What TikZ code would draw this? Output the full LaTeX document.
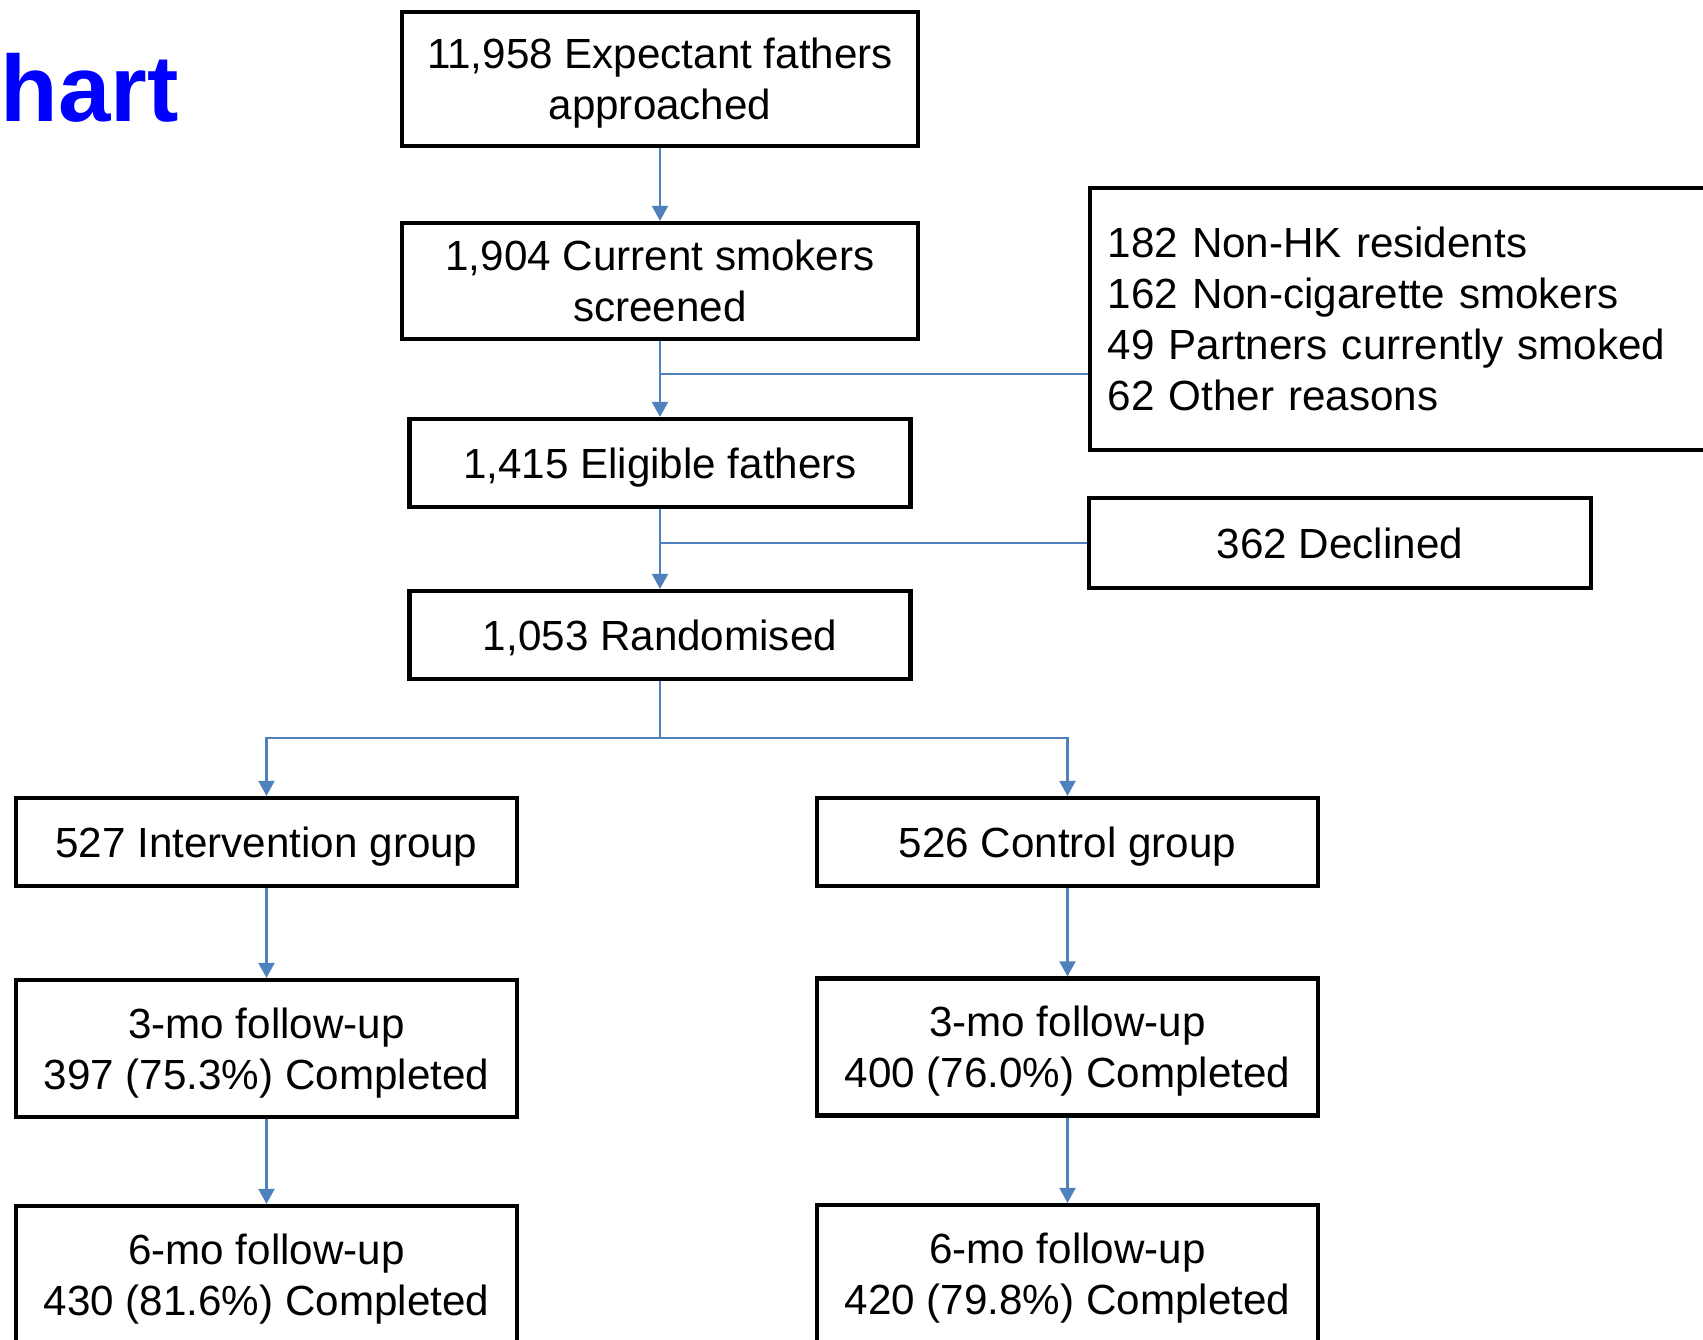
\documentclass[tikz,border=0pt]{standalone}
\usepackage{fontspec}
\setmainfont{Liberation Sans}
\usetikzlibrary{arrows.meta}
\definecolor{linkblue}{RGB}{79,129,189}
\definecolor{titleblue}{RGB}{0,0,255}
\begin{document}
\begin{tikzpicture}[%
% common options for the boxes:
box/.style = {draw, line width=1.2pt, align=center, inner sep=0, text depth=0pt,
            font=\fontsize{12}{14.5}\selectfont},
% common options for the connectors:
link/.style = {draw=linkblue, line width=0.6pt},
arr/.style = {link, -{Triangle[length=4.3pt,width=4.6pt]}}]
\clip (0,0) rectangle (17.03,-13.40);
\node[anchor=base west, inner sep=0, text=titleblue, font=\fontsize{26.8}{30}\selectfont\bfseries] (ttl) at (0,-1.22) {hart};
\node[box, minimum width=5.16cm, minimum height=1.34cm] (appr) at (6.60,-0.79) {11,958 Expectant fathers\\approached};
\node[box, minimum width=5.16cm, minimum height=1.16cm] (scr) at (6.60,-2.81) {1,904 Current smokers\\screened};
\node[box, minimum width=5.01cm, minimum height=0.88cm] (elig) at (6.60,-4.63) {1,415 Eligible fathers};
\node[box, minimum width=5.01cm, minimum height=0.88cm] (rand) at (6.60,-6.35) {1,053 Randomised};
\node[box, text depth=, anchor=west, align=left, minimum width=6.80cm, minimum height=2.62cm, text width=6.45cm] (excl) at (10.88,-3.19) {182 Non-HK residents\\162 Non-cigarette smokers\\49 Partners currently smoked\\62 Other reasons};
\node[box, minimum width=5.02cm, minimum height=0.90cm] (decl) at (13.40,-5.43) {362 Declined};
\node[box, minimum width=5.01cm, minimum height=0.88cm] (int) at (2.665,-8.42) {527 Intervention group};
\node[box, minimum width=5.01cm, minimum height=0.88cm] (ctl) at (10.675,-8.42) {526 Control group};
\node[box, minimum width=5.01cm, minimum height=1.37cm] (fuAi) at (2.665,-10.485) {3-mo follow-up\\397 (75.3\%) Completed};
\node[box, minimum width=5.01cm, minimum height=1.37cm] (fuAc) at (10.675,-10.47) {3-mo follow-up\\400 (76.0\%) Completed};
\node[box, minimum width=5.01cm, minimum height=1.37cm] (fuBi) at (2.665,-12.745) {6-mo follow-up\\430 (81.6\%) Completed};
\node[box, minimum width=5.01cm, minimum height=1.37cm] (fuBc) at (10.675,-12.735) {6-mo follow-up\\420 (79.8\%) Completed};
\coordinate (exit) at (6.60,-3.74);
\coordinate (split) at (6.60,-7.38);
\draw[arr] (appr.south) to (scr.north);
\draw[arr] (scr.south) to (elig.north);
\draw[link] (exit) to (excl.west |- exit);
\draw[arr] (elig.south) to (rand.north);
\draw[link] (elig.south |- decl.west) to (decl.west);
\draw[link] (rand.south) to (split);
\draw[arr] (split) -| (int.north);
\draw[arr] (split) -| (ctl.north);
\draw[arr] (int.south) to (fuAi.north);
\draw[arr] (ctl.south) to (fuAc.north);
\draw[arr] (fuAi.south) to (fuBi.north);
\draw[arr] (fuAc.south) to (fuBc.north);
\end{tikzpicture}
\end{document}
